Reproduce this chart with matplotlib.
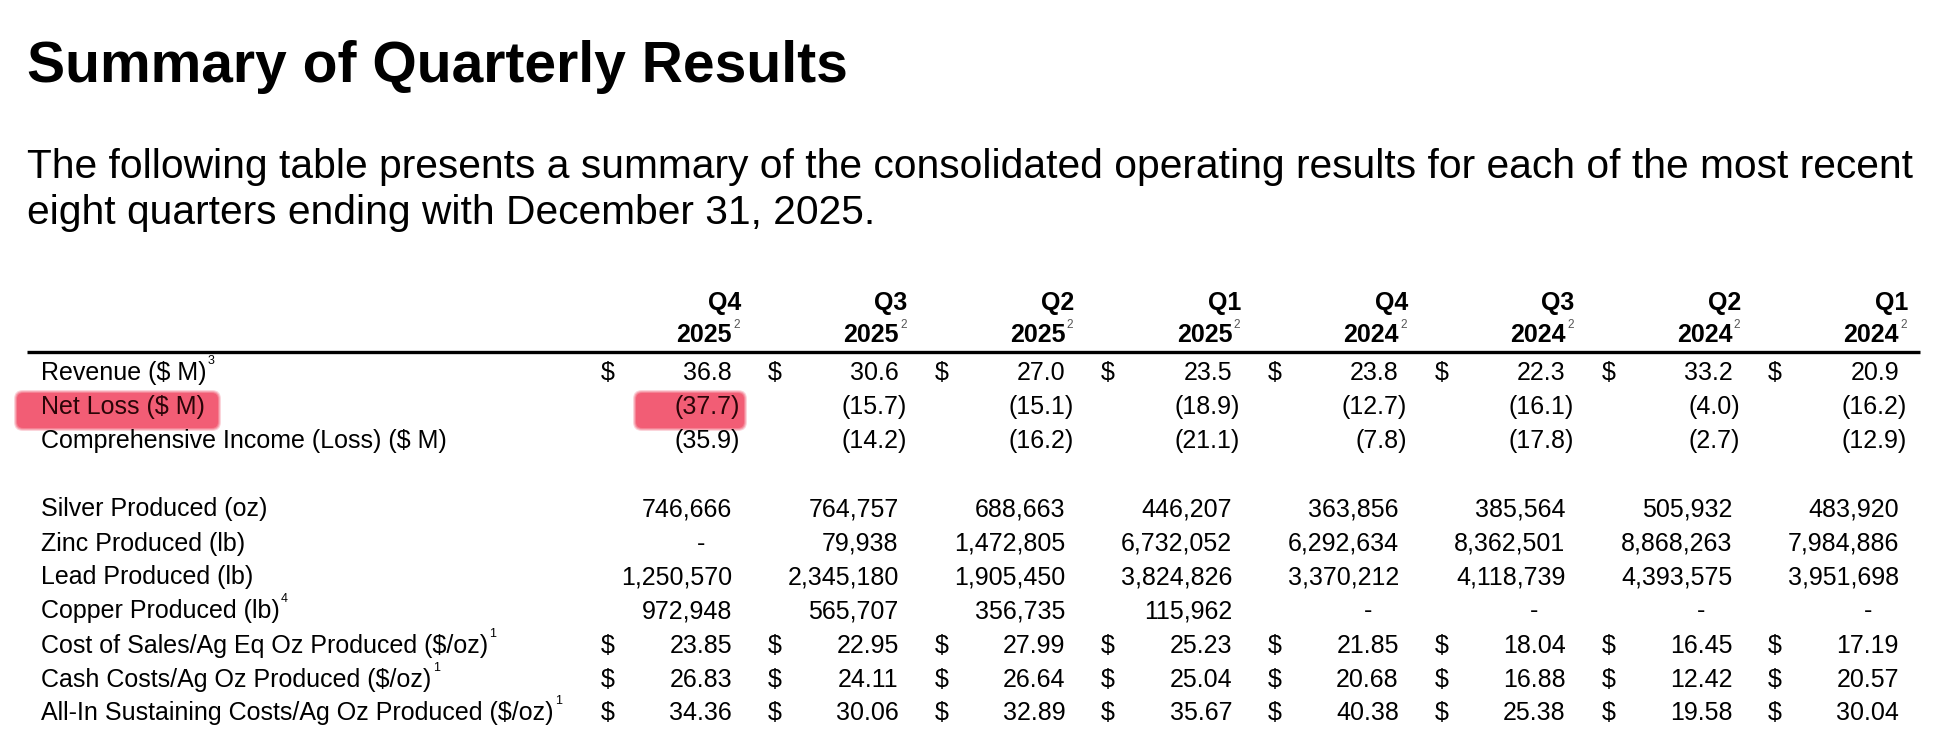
import numpy as np
import matplotlib
matplotlib.use("Agg")
import matplotlib.pyplot as plt
from matplotlib.patches import FancyBboxPatch

plt.rcParams['font.family'] = ['Liberation Sans', 'DejaVu Sans']

# === 数据 ===
title = "Summary of Quarterly Results"
intro = ["The following table presents a summary of the consolidated operating results for each of the most recent",
         "eight quarters ending with December 31, 2025."]

quarters = ['Q4', 'Q3', 'Q2', 'Q1', 'Q4', 'Q3', 'Q2', 'Q1']
years = ['2025', '2025', '2025', '2025', '2024', '2024', '2024', '2024']

row_labels = ["Revenue ($ M)", "Net Loss ($ M)", "Comprehensive Income (Loss) ($ M)",
              "Silver Produced (oz)", "Zinc Produced (lb)", "Lead Produced (lb)",
              "Copper Produced (lb)", "Cost of Sales/Ag Eq Oz Produced ($/oz)",
              "Cash Costs/Ag Oz Produced ($/oz)", "All-In Sustaining Costs/Ag Oz Produced ($/oz)"]
row_notes = ['3', '', '', '', '', '', '4', '1', '1', '1']

revenue = [36.8, 30.6, 27.0, 23.5, 23.8, 22.3, 33.2, 20.9]
net_loss = [-37.7, -15.7, -15.1, -18.9, -12.7, -16.1, -4.0, -16.2]
comp_income = [-35.9, -14.2, -16.2, -21.1, -7.8, -17.8, -2.7, -12.9]
silver = [746666, 764757, 688663, 446207, 363856, 385564, 505932, 483920]
zinc = [None, 79938, 1472805, 6732052, 6292634, 8362501, 8868263, 7984886]
lead = [1250570, 2345180, 1905450, 3824826, 3370212, 4118739, 4393575, 3951698]
copper = [972948, 565707, 356735, 115962, None, None, None, None]
cost_sales = [23.85, 22.95, 27.99, 25.23, 21.85, 18.04, 16.45, 17.19]
cash_costs = [26.83, 24.11, 26.64, 25.04, 20.68, 16.88, 12.42, 20.57]
aisc = [34.36, 30.06, 32.89, 35.67, 40.38, 25.38, 19.58, 30.04]


def fmt_money(v):
    return f"({abs(v):.1f})" if v < 0 else f"{v:.1f}"


def fmt_int(v):
    return "-" if v is None else f"{v:,}"


# 每行: (数值, 格式函数, 是否带$)
rows = [
    (revenue, fmt_money, True),
    (net_loss, fmt_money, False),
    (comp_income, fmt_money, False),
    (silver, fmt_int, False),
    (zinc, fmt_int, False),
    (lead, fmt_int, False),
    (copper, fmt_int, False),
    (cost_sales, lambda v: f"{v:.2f}", True),
    (cash_costs, lambda v: f"{v:.2f}", True),
    (aisc, lambda v: f"{v:.2f}", True),
]

# === 布局 (像素坐标) ===
W, H = 1945, 742
fig = plt.figure(figsize=(W / 100, H / 100), dpi=100)
ax = fig.add_axes([0, 0, 1, 1])
ax.set_xlim(0, W)
ax.set_ylim(H, 0)
ax.axis('off')

fs = 18
col_right = np.linspace(732, 1899, len(quarters))
row_y = [373, 407, 441, 509, 544, 577, 611, 646, 680, 713]
label_x = 41
paren_w = 8
hl_row = 1          # Net Loss 行高亮
hl_text = '#2a0508'

ax.text(27, 82, title, fontsize=41, fontweight='bold', va='baseline', ha='left')
ax.text(27, 178, intro[0], fontsize=29.3, va='baseline', ha='left')
ax.text(27, 224, intro[1], fontsize=29.3, va='baseline', ha='left')

# 表头
for x, q, yr in zip(col_right, quarters, years):
    ax.text(x + 9, 303, q, fontsize=fs, fontweight='bold', ha='right', va='center')
    t = ax.text(x, 335, yr, fontsize=fs, fontweight='bold', ha='right', va='center')
    ax.annotate('2', xy=(1.0, 1.0), xycoords=t, xytext=(1, 3), textcoords='offset points',
                fontsize=8.5, color='#555555', ha='left', va='top')

ax.plot([27, 1920], [352, 352], color='black', lw=2.4, solid_capstyle='butt')

# 行
for i, (y, lab, note, (vals, f, dollar)) in enumerate(zip(row_y, row_labels, row_notes, rows)):
    c = hl_text if i == hl_row else 'black'
    t = ax.text(label_x, y, lab, fontsize=fs, ha='left', va='center', color=c, zorder=6)
    if note:
        ax.annotate(note, xy=(1.0, 1.0), xycoords=t, xytext=(1, 4), textcoords='offset points',
                    fontsize=9, ha='left', va='top')
    for j, (x, v) in enumerate(zip(col_right, vals)):
        s = f(v)
        cc = c if j == 0 else 'black'
        if dollar:
            ax.text(x - 124, y, '$', fontsize=fs, ha='center', va='center')
        if s == '-':
            ax.text(x - 27, y, s, fontsize=fs, ha='right', va='center')
        elif s.startswith('('):
            ax.text(x + paren_w, y, s, fontsize=fs, ha='right', va='center', color=cc, zorder=6)
        else:
            ax.text(x, y, s, fontsize=fs, ha='right', va='center', color=cc, zorder=6)

# 高亮 Net Loss (边缘略模糊)
hl_color = '#f25a72'
for x0, x1 in [(17, 218), (636, 744)]:
    y0, y1 = 393, 428
    for k, a in [(3, 0.25), (2, 0.35), (1, 0.5), (0, 0.9)]:
        pad = 4 + k
        ax.add_patch(FancyBboxPatch((x0 + 8, y0 + 8), x1 - x0 - 16, y1 - y0 - 16,
                                    boxstyle=f'round,pad={pad + 4},rounding_size={6 + k}',
                                    fc=hl_color, ec='none', alpha=a, zorder=4))

fig.savefig('out.png', dpi=100)
